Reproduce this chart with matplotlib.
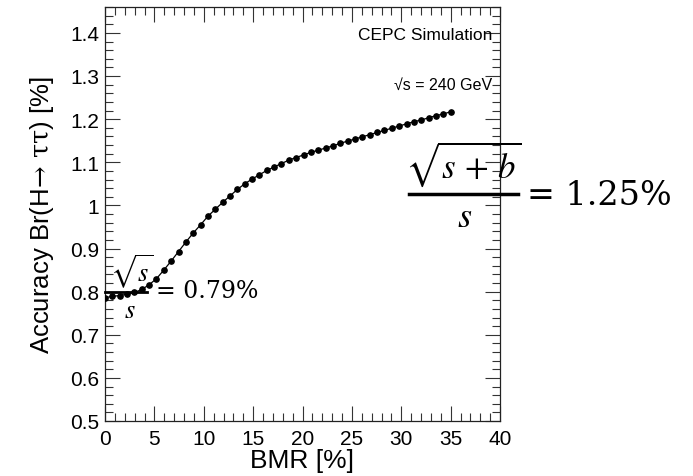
import numpy as np
import matplotlib
matplotlib.use("Agg")
import matplotlib.pyplot as plt
from matplotlib.ticker import MultipleLocator
from matplotlib.lines import Line2D

plt.rcParams['font.family'] = ['Liberation Sans', 'DejaVu Sans']
plt.rcParams['mathtext.fontset'] = 'stix'

# BMR scan, 48 points from 0 to 35 %
bmr = np.linspace(0, 35, 48)
accuracy = [0.786, 0.789, 0.791, 0.794, 0.798, 0.805, 0.816, 0.830, 0.850, 0.871,
            0.893, 0.915, 0.936, 0.955, 0.975, 0.991, 1.007, 1.022, 1.037, 1.050,
            1.061, 1.071, 1.081, 1.089, 1.097, 1.105, 1.111, 1.117, 1.123, 1.128,
            1.133, 1.138, 1.144, 1.149, 1.154, 1.159, 1.164, 1.169, 1.174, 1.179,
            1.184, 1.189, 1.194, 1.198, 1.203, 1.208, 1.212, 1.217]

W, H = 693, 477

def fx(x):
    return x / W

def fy(y):
    return 1 - y / H

fig = plt.figure(figsize=(W / 100, H / 100), dpi=100)
ax = fig.add_axes([fx(105), fy(422), (500 - 105) / W, (422 - 8) / H])

ax.plot(bmr, accuracy, color='black', lw=0.9, marker='o', ms=3.8, zorder=3)

ax.set_xlim(0, 40)
ax.set_ylim(0.5, 1.46)
ax.xaxis.set_major_locator(MultipleLocator(5))
ax.xaxis.set_minor_locator(MultipleLocator(1))
ax.yaxis.set_minor_locator(MultipleLocator(0.02))
ax.set_yticks([0.5, 0.6, 0.7, 0.8, 0.9, 1.0, 1.1, 1.2, 1.3, 1.4])
ax.set_yticklabels(['0.5', '0.6', '0.7', '0.8', '0.9', '1', '1.1', '1.2', '1.3', '1.4'])
ax.tick_params(which='both', direction='in', top=True, right=True, width=0.8,
               color='#333333', labelsize=15)
ax.tick_params(which='major', length=11, pad=4)
ax.tick_params(which='minor', length=6)
ax.tick_params(axis='x', pad=6)
for s in ax.spines.values():
    s.set_linewidth(0.9)
    s.set_color('#222222')

ax.set_xlabel('BMR [%]', fontsize=19, labelpad=0)
ax.set_ylabel(r'Accuracy Br(H$\!\rightarrow\!$ $\mathrm{\tau\tau}$) [%]', fontsize=18.5,
              labelpad=10, math_fontfamily='dejavuserif')

fig.text(fx(492), fy(35), 'CEPC Simulation', ha='right', va='center', fontsize=12.5)
fig.text(fx(492), fy(85), '\u221as = 240 GeV', ha='right', va='center', fontsize=11.5)

# small fraction: sqrt(s)/s = 0.79%
fig.text(fx(132), fy(272), r'$\sqrt{s}$', ha='center', va='center', fontsize=19, zorder=5)
fig.add_artist(Line2D([fx(105), fx(147)], [fy(293), fy(293)], color='black', lw=2, zorder=5))
fig.text(fx(130), fy(311), r'$s$', ha='center', va='center', fontsize=19, zorder=5)
fig.text(fx(156), fy(292), '= 0.79%', ha='left', va='center', fontsize=17,
         family='DejaVu Serif', zorder=5)

# large fraction: sqrt(s+b)/s = 1.25%
fig.text(fx(463), fy(164), r'$\sqrt{s\,+\,b}$', ha='center', va='center', fontsize=25, zorder=5)
fig.add_artist(Line2D([fx(409), fx(518)], [fy(195), fy(195)], color='black', lw=2.5, zorder=5))
fig.text(fx(465), fy(218), r'$s$', ha='center', va='center', fontsize=26, zorder=5)
fig.text(fx(527), fy(196), '= 1.25%', ha='left', va='center', fontsize=24,
         family='DejaVu Serif', zorder=5)

fig.savefig('out.png', dpi=100)
